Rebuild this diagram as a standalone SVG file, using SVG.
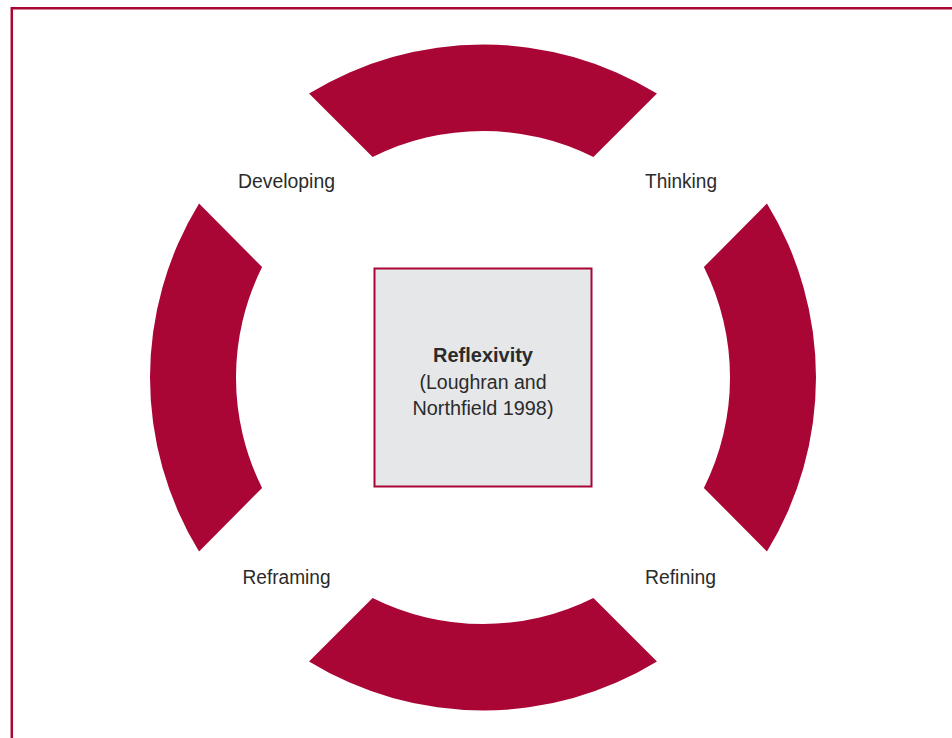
<svg xmlns="http://www.w3.org/2000/svg" width="952" height="738" viewBox="0 0 952 738">
<style>
.seg{fill:#a90636;stroke:none}
.lbl{font-family:"Liberation Sans",Arial,sans-serif;font-size:20px;fill:#2b2b2b;text-anchor:middle}
.bold{font-weight:bold}
.box{fill:#e6e7e9;stroke:#a90636;stroke-width:2}
</style>
<rect width="952" height="738" fill="#ffffff"/>
<path d="M11.8,740 V8.2 H954" fill="none" stroke="#a90636" stroke-width="2.5"/>
<g id="ring">
<g id="seg-top"><path class="seg" d="M309.05,93.55 A333,333 0 0 1 656.95,93.55 L593.4,157.1 A246.5,246.5 0 0 0 372.6,157.1 Z"/></g>
<g id="seg-right"><path class="seg" d="M766.95,203.55 A333,333 0 0 1 766.95,551.45 L703.9,487.9 A246.5,246.5 0 0 0 703.9,267.1 Z"/></g>
<g id="seg-bottom"><path class="seg" d="M656.95,661.45 A333,333 0 0 1 309.05,661.45 L372.6,597.9 A246.5,246.5 0 0 0 593.4,597.9 Z"/></g>
<g id="seg-left"><path class="seg" d="M199.05,551.45 A333,333 0 0 1 199.05,203.55 L262.1,267.1 A246.5,246.5 0 0 0 262.1,487.9 Z"/></g>
</g>
<g id="center">
<rect class="box" x="374.5" y="268.5" width="217" height="218"/>
<text class="lbl bold" x="483" y="361.5" textLength="100" lengthAdjust="spacingAndGlyphs">Reflexivity</text>
<text class="lbl" x="483" y="388.5" textLength="127" lengthAdjust="spacingAndGlyphs">(Loughran and</text>
<text class="lbl" x="483" y="415" textLength="141" lengthAdjust="spacingAndGlyphs">Northfield 1998)</text>
</g>
<g id="developing"><text class="lbl" x="286.5" y="188" textLength="97" lengthAdjust="spacingAndGlyphs">Developing</text></g>
<g id="thinking"><text class="lbl" x="681" y="188" textLength="72" lengthAdjust="spacingAndGlyphs">Thinking</text></g>
<g id="reframing"><text class="lbl" x="286.5" y="583.5" textLength="88" lengthAdjust="spacingAndGlyphs">Reframing</text></g>
<g id="refining"><text class="lbl" x="680.5" y="583.5" textLength="71" lengthAdjust="spacingAndGlyphs">Refining</text></g>
<g id="connectors"></g>
</svg>
